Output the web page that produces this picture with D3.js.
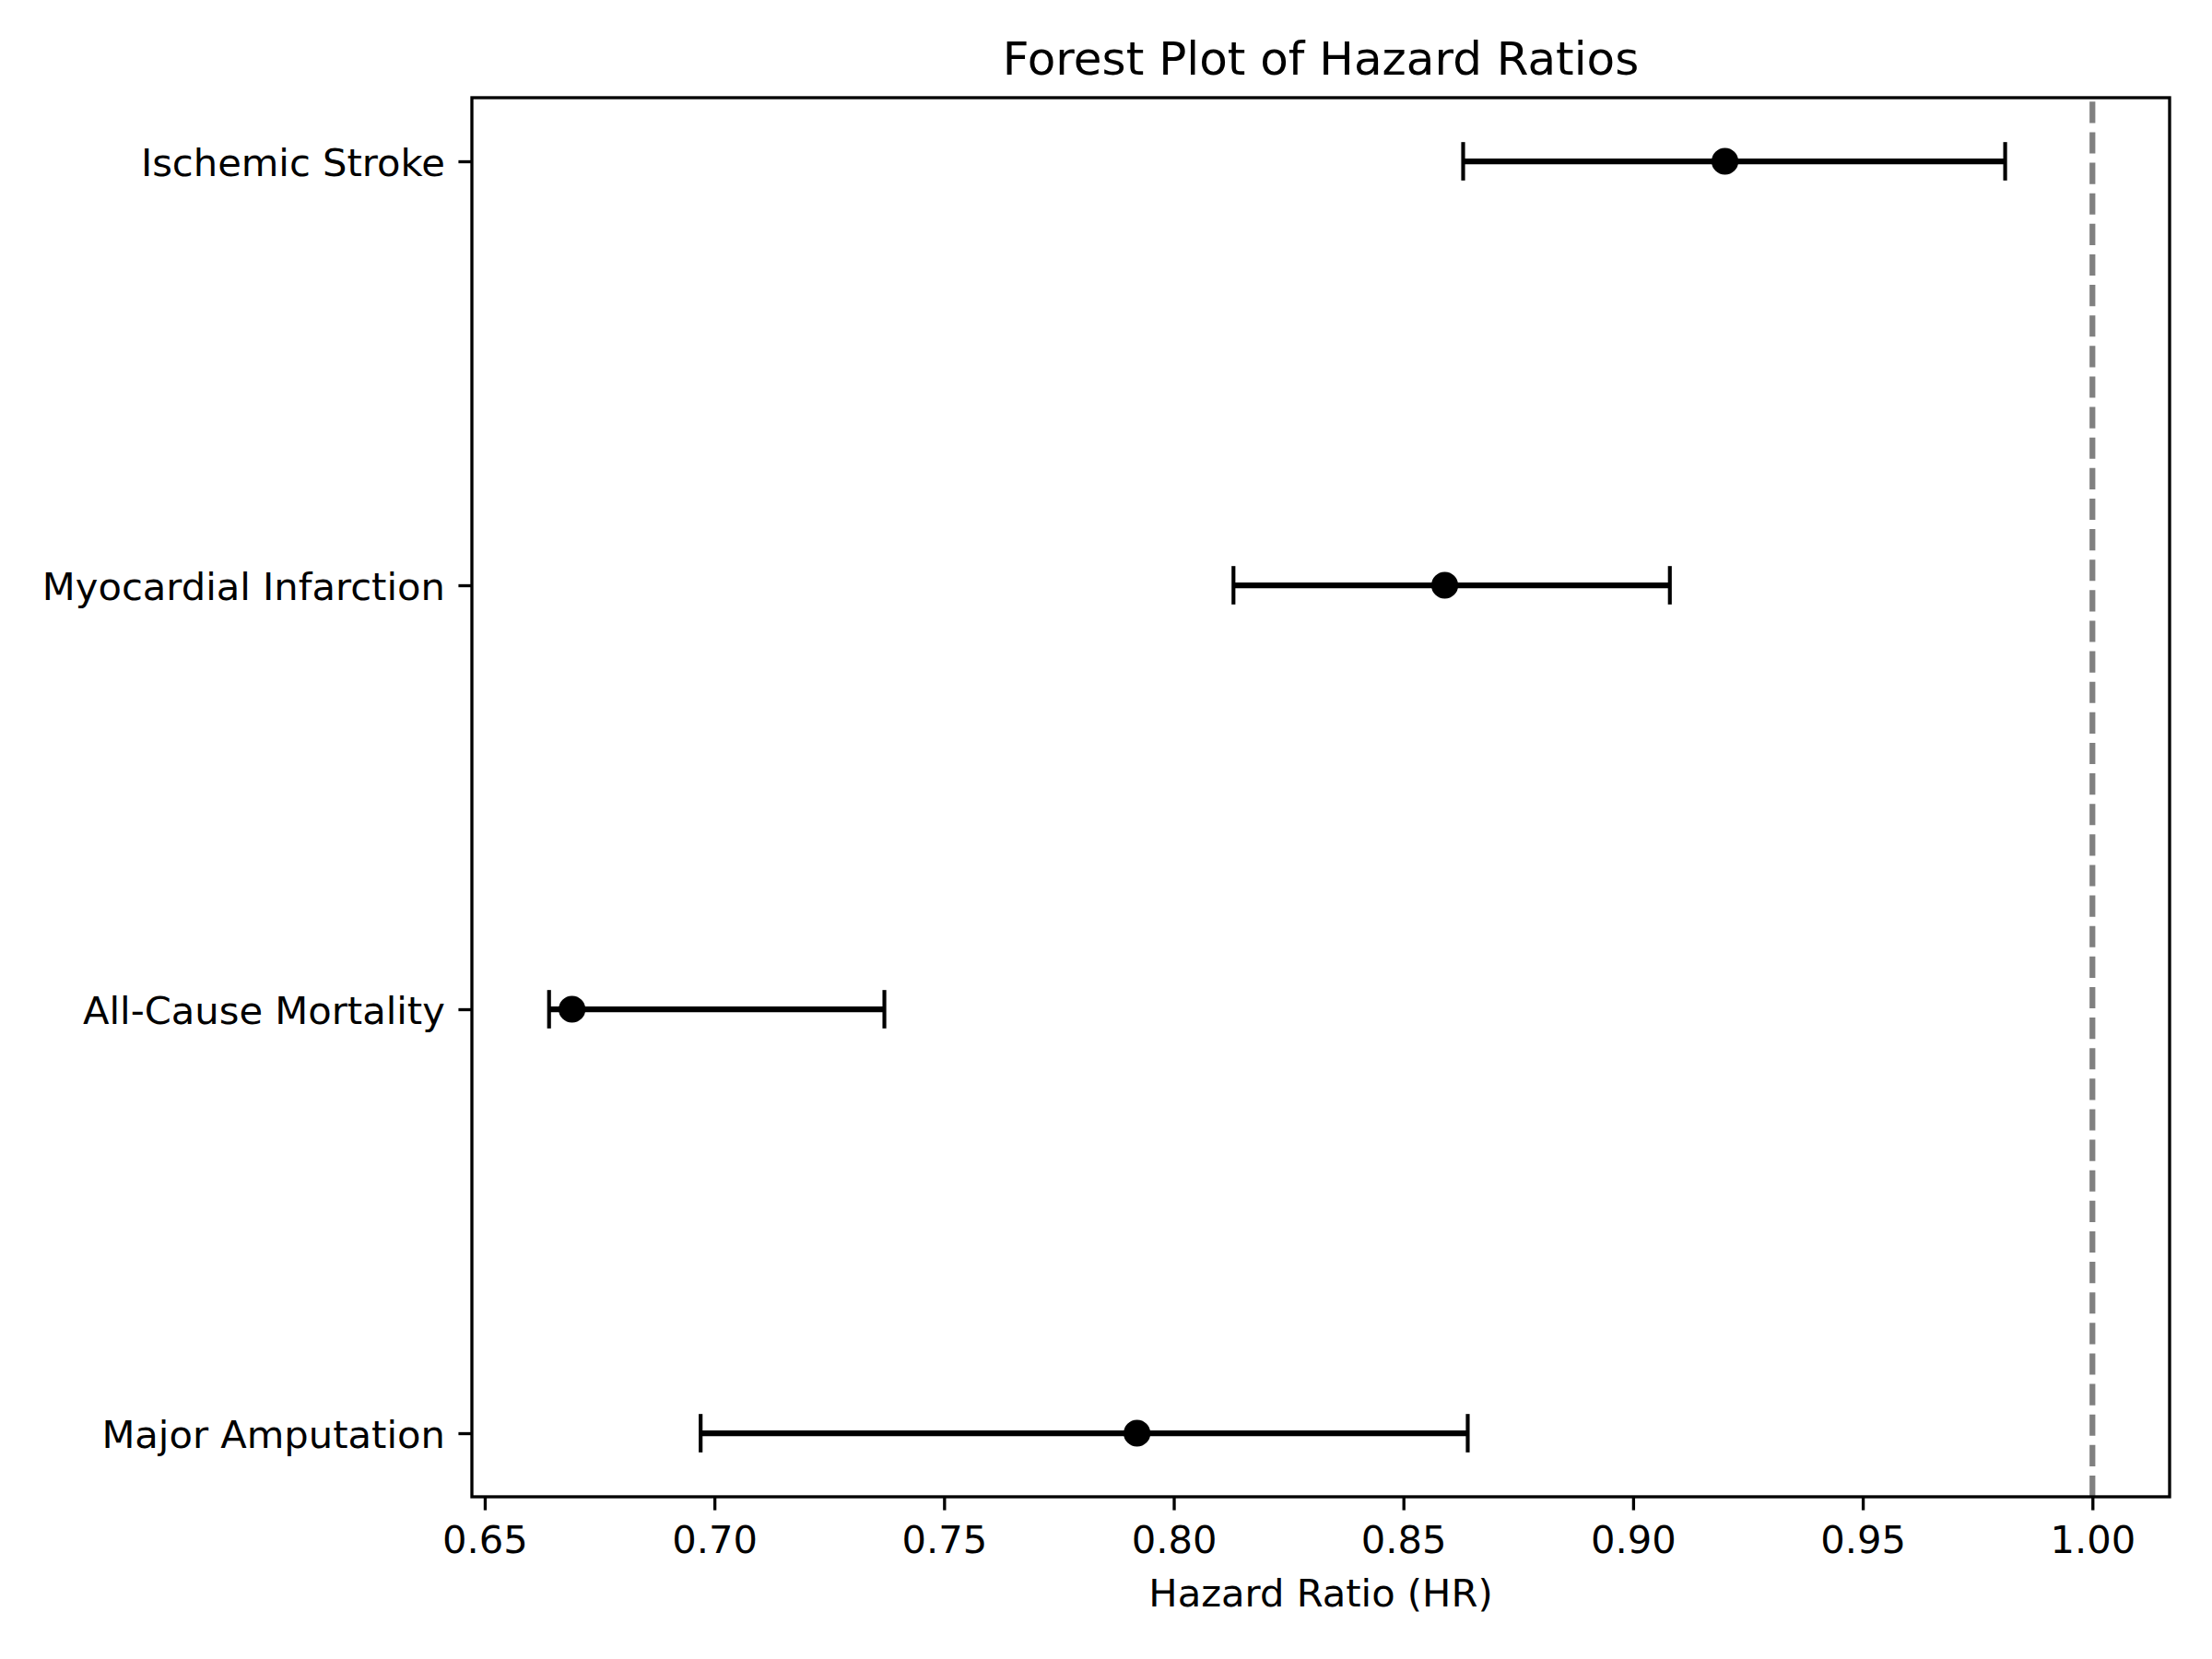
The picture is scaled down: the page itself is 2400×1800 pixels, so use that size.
<!DOCTYPE html>
<html>
<head>
<meta charset="utf-8">
<script src="https://cdn.jsdelivr.net/npm/d3@7"></script>
<style>
  html, body { margin: 0; padding: 0; background: #fff; }
  svg { display: block; }
</style>
</head>
<body>
<svg id="chart" width="2400" height="1800"></svg>
<script>
// Data (bottom to top order as plotted)
const outcomes = ["Major Amputation", "All-Cause Mortality", "Myocardial Infarction", "Ischemic Stroke"];
const hazardRatios = [0.792, 0.669, 0.859, 0.920];
const ciLower = [0.697, 0.664, 0.813, 0.863];
const ciUpper = [0.864, 0.737, 0.908, 0.981];
const referenceLine = 1.0;
const xTickValues = [0.65, 0.70, 0.75, 0.80, 0.85, 0.90, 0.95, 1.00];
const titleText = "Forest Plot of Hazard Ratios";
const xLabelText = "Hazard Ratio (HR)";

(function () {
const PT = 300 / 72;
const font = "DejaVu Sans, sans-serif";
const svg = d3.select("#chart");
svg.append("rect").attr("width", 2400).attr("height", 1800).attr("fill", "#fff");

const axL = 512, axR = 2354, axT = 106, axB = 1624;

// x domain with 5% margins like matplotlib autoscale
const xmin = Math.min(d3.min(ciLower), referenceLine);
const xmax = Math.max(d3.max(ciUpper), referenceLine);
const xm = (xmax - xmin) * 0.05;
const x = d3.scaleLinear().domain([xmin - xm, xmax + xm]).range([axL, axR]);

const idx = outcomes.map((d, i) => i);
const ym = (outcomes.length - 1) * 0.05;
const y = d3.scaleLinear().domain([-ym, outcomes.length - 1 + ym]).range([axB, axT]);

// Reference dashed line
svg.append("line")
  .attr("x1", x(referenceLine)).attr("x2", x(referenceLine))
  .attr("y1", axB).attr("y2", axT)
  .attr("stroke", "#808080")
  .attr("stroke-width", 1.5 * PT)
  .attr("stroke-dasharray", `${3.7 * 1.5 * PT},${1.6 * 1.5 * PT}`);

// Error bars
const g = svg.append("g");
g.selectAll("line.err").data(idx).join("line")
  .attr("class", "err")
  .attr("x1", i => x(ciLower[i])).attr("x2", i => x(ciUpper[i]))
  .attr("y1", i => y(i)).attr("y2", i => y(i))
  .attr("stroke", "#000").attr("stroke-width", 1.5 * PT);

const capHalf = 5 * PT;
["lo", "hi"].forEach(side => {
  g.selectAll("line.cap-" + side).data(idx).join("line")
    .attr("class", "cap-" + side)
    .attr("x1", i => x(side === "lo" ? ciLower[i] : ciUpper[i]))
    .attr("x2", i => x(side === "lo" ? ciLower[i] : ciUpper[i]))
    .attr("y1", i => y(i) - capHalf).attr("y2", i => y(i) + capHalf)
    .attr("stroke", "#000").attr("stroke-width", 1 * PT);
});

g.selectAll("circle.pt").data(idx).join("circle")
  .attr("class", "pt")
  .attr("cx", i => x(hazardRatios[i])).attr("cy", i => y(i))
  .attr("r", 3 * PT)
  .attr("fill", "#000").attr("stroke", "#000").attr("stroke-width", 1 * PT);

// Axes
const tickLen = 3.5 * PT;
const xAxis = d3.axisBottom(x).tickValues(xTickValues).tickFormat(d3.format(".2f"))
  .tickSize(tickLen).tickSizeOuter(0).tickPadding(3.5 * PT);
const xg = svg.append("g").attr("transform", `translate(0,${axB})`).call(xAxis);
xg.select(".domain").remove();
xg.selectAll(".tick line").attr("stroke", "#000").attr("stroke-width", 0.8 * PT);
xg.selectAll(".tick text")
  .attr("y", 61).attr("dy", null)
  .attr("fill", "#000")
  .style("font-family", font).style("font-size", (10 * PT) + "px");

const yAxis = d3.axisLeft(y).tickValues(idx).tickFormat(i => outcomes[i])
  .tickSize(tickLen).tickSizeOuter(0).tickPadding(3.5 * PT);
const yg = svg.append("g").attr("transform", `translate(${axL},0)`).call(yAxis);
yg.select(".domain").remove();
yg.selectAll(".tick line").attr("stroke", "#000").attr("stroke-width", 0.8 * PT);
yg.selectAll(".tick text")
  .attr("dy", "0.38em")
  .attr("fill", "#000")
  .style("font-family", font).style("font-size", (10 * PT) + "px");

// Frame
svg.append("rect")
  .attr("x", axL).attr("y", axT)
  .attr("width", axR - axL).attr("height", axB - axT)
  .attr("fill", "none").attr("stroke", "#000").attr("stroke-width", 0.8 * PT)
  .attr("stroke-linejoin", "miter");

// Title and x label
svg.append("text")
  .attr("x", (axL + axR) / 2).attr("y", 81)
  .attr("text-anchor", "middle")
  .style("font-family", font).style("font-size", (12 * PT) + "px")
  .attr("fill", "#000")
  .text(titleText);

svg.append("text")
  .attr("x", (axL + axR) / 2).attr("y", 1743)
  .attr("text-anchor", "middle")
  .style("font-family", font).style("font-size", (10 * PT) + "px")
  .attr("fill", "#000")
  .text(xLabelText);
})();
</script>
</body>
</html>
